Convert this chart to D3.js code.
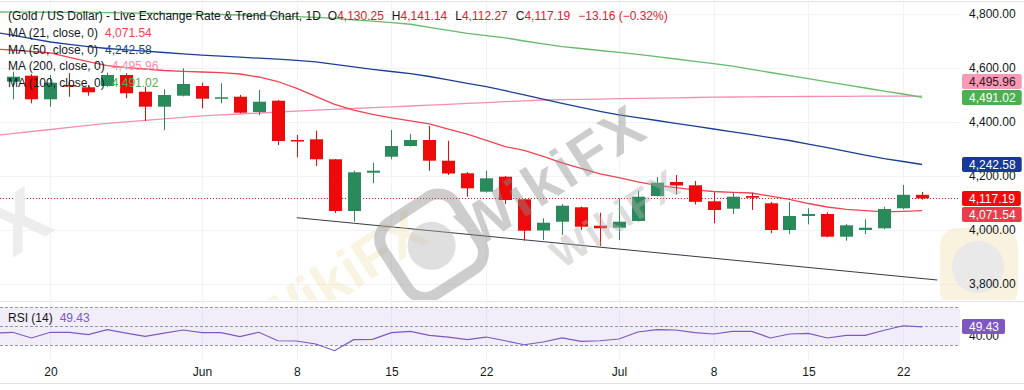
<!DOCTYPE html>
<html>
<head>
<meta charset="utf-8">
<script src="https://cdn.jsdelivr.net/npm/d3@7/dist/d3.min.js"></script>
<style>
  html, body { margin: 0; padding: 0; background: #fff; }
  svg text { font-family: "Liberation Sans", Arial, sans-serif; font-size: 12px; fill: #131722; }
</style>
</head>
<body>
<div id="chart"></div>
<script>
// Trading days (first one has no visible candle, it only feeds the lines at the left edge)
const dates = [
  "2026-05-15",
  "2026-05-18", "2026-05-19", "2026-05-20", "2026-05-21", "2026-05-22",
  "2026-05-25", "2026-05-26", "2026-05-27", "2026-05-28", "2026-05-29",
  "2026-06-01", "2026-06-02", "2026-06-03", "2026-06-04", "2026-06-05",
  "2026-06-08", "2026-06-09", "2026-06-10", "2026-06-11", "2026-06-12",
  "2026-06-15", "2026-06-16", "2026-06-17", "2026-06-18", "2026-06-19",
  "2026-06-22", "2026-06-23", "2026-06-24", "2026-06-25", "2026-06-26",
  "2026-06-29", "2026-06-30", "2026-07-01", "2026-07-02", "2026-07-03",
  "2026-07-06", "2026-07-07", "2026-07-08", "2026-07-09", "2026-07-10",
  "2026-07-13", "2026-07-14", "2026-07-15", "2026-07-16", "2026-07-17",
  "2026-07-20", "2026-07-21", "2026-07-22", "2026-07-23"
];

// OHLC, one value per date
const open = [null,
  4549.3, 4571.5, 4484.1, 4537.0, 4528.5, 4533.3, 4574.1, 4512.2, 4456.7, 4497.4,
  4533.3, 4488.5, 4493.7, 4437.0, 4478.9, 4333.3, 4335.9, 4261.9, 4070.4, 4212.2,
  4271.5, 4311.1, 4333.3, 4256.7, 4210.0, 4141.9, 4197.4, 4113.7, 3998.1, 4030.7,
  4084.1, 4015.9, 4008.5, 4033.3, 4125.9, 4177.8, 4165.6, 4106.3, 4078.9, 4125.9,
  4098.9, 4000.0, 4051.9, 4059.3, 3975.2, 4000.0, 4006.3, 4080.4, 4130.25];
const high = [null,
  4586.3, 4577.8, 4574.1, 4581.5, 4537.0, 4582.6, 4580.4, 4530.7, 4521.1, 4598.9,
  4545.6, 4543.3, 4500.0, 4518.5, 4481.5, 4351.9, 4367.8, 4263.0, 4219.6, 4249.3,
  4370.4, 4355.6, 4385.2, 4330.7, 4214.8, 4219.6, 4200.0, 4114.8, 4043.3, 4096.3,
  4087.0, 4064.1, 4117.4, 4145.6, 4196.3, 4203.7, 4181.5, 4139.6, 4138.1, 4138.1,
  4103.7, 4103.7, 4080.4, 4065.6, 4022.2, 4039.6, 4086.3, 4166.7, 4141.14];
const low = [null,
  4484.1, 4469.3, 4456.7, 4493.7, 4497.4, 4529.6, 4487.8, 4403.7, 4370.4, 4495.0,
  4450.7, 4469.3, 4432.2, 4425.9, 4314.8, 4269.3, 4237.0, 4063.0, 4030.7, 4173.0,
  4261.9, 4309.3, 4219.6, 4203.7, 4123.3, 4138.9, 4096.3, 3960.4, 3963.0, 3981.5,
  4000.0, 3940.7, 3963.0, 4031.5, 4124.0, 4131.5, 4094.4, 4024.8, 4059.3, 4074.1,
  3987.8, 3985.2, 4021.1, 3973.0, 3960.4, 3985.2, 4002.6, 4076.7, 4112.27];
const close = [null,
  4567.8, 4484.1, 4545.6, 4535.0, 4510.0, 4574.1, 4506.3, 4456.7, 4500.0, 4540.7,
  4486.3, 4491.5, 4434.4, 4475.2, 4329.6, 4330.7, 4261.9, 4070.4, 4213.7, 4219.6,
  4311.1, 4333.3, 4256.7, 4209.3, 4154.4, 4191.5, 4111.1, 3997.4, 4027.0, 4090.0,
  4012.2, 4006.3, 4030.7, 4123.3, 4175.2, 4164.8, 4104.4, 4074.1, 4123.3, 4119.6,
  4000.0, 4051.9, 4059.3, 3975.2, 4017.4, 4008.5, 4077.8, 4130.35, 4117.19];

// Moving averages
const ma21 = [
  4670.4, 4666.7, 4661.1, 4655.6, 4639.3, 4623.3, 4608.9, 4601.5, 4596.3, 4590.7,
  4587.4, 4585.2, 4583.0, 4577.8, 4566.7, 4550.0, 4524.8, 4495.2, 4465.6, 4444.1,
  4428.5, 4415.6, 4404.1, 4393.0, 4373.7, 4354.8, 4332.2, 4308.9, 4294.8, 4272.6,
  4248.9, 4228.1, 4208.1, 4193.7, 4178.5, 4165.2, 4156.7, 4148.9, 4142.6, 4139.3,
  4137.0, 4125.2, 4113.3, 4098.1, 4085.2, 4076.3, 4071.5, 4067.4, 4069.3, 4071.54];
const ma50 = [
  4733.3, 4721.5, 4708.5, 4696.3, 4687.8, 4679.3, 4672.2, 4667.4, 4662.2, 4657.4,
  4652.6, 4647.8, 4643.7, 4640.0, 4636.3, 4632.6, 4628.5, 4623.0, 4613.7, 4604.4,
  4595.2, 4587.0, 4578.9, 4568.5, 4555.9, 4543.3, 4530.7, 4515.9, 4500.4, 4484.8,
  4469.3, 4454.1, 4439.6, 4426.7, 4416.3, 4405.6, 4394.8, 4384.4, 4374.1, 4363.3,
  4353.0, 4342.2, 4331.5, 4318.1, 4304.8, 4291.5, 4277.4, 4264.4, 4253.7, 4242.58];
const ma200 = [
  4349.6, 4357.0, 4364.8, 4372.2, 4380.0, 4387.8, 4394.8, 4400.4, 4405.9, 4411.5,
  4417.0, 4422.6, 4426.3, 4429.6, 4433.3, 4436.7, 4440.0, 4443.7, 4447.0, 4450.0,
  4453.3, 4456.3, 4459.3, 4462.6, 4465.6, 4468.9, 4471.9, 4475.2, 4478.5, 4481.5,
  4482.6, 4483.7, 4484.8, 4486.3, 4487.4, 4488.5, 4489.6, 4490.7, 4491.9, 4492.6,
  4493.3, 4493.7, 4494.1, 4494.4, 4494.8, 4495.2, 4495.6, 4495.6, 4495.9, 4495.96];
const ma100 = [
  4807.4, 4807.2, 4806.8, 4806.5, 4806.1, 4805.7, 4805.2, 4804.1, 4803.0, 4802.0,
  4800.9, 4799.8, 4798.1, 4796.3, 4794.4, 4792.8, 4790.2, 4787.2, 4783.9, 4778.5,
  4773.3, 4768.0, 4762.0, 4750.7, 4739.3, 4728.3, 4720.0, 4711.9, 4700.0, 4689.6,
  4679.3, 4672.2, 4664.8, 4658.1, 4650.4, 4641.8, 4633.3, 4624.8, 4616.3, 4606.7,
  4594.8, 4583.3, 4571.9, 4560.4, 4548.5, 4537.4, 4525.9, 4514.1, 4503.7, 4491.02];

// RSI (14)
const rsi = [
  42.9, 43.7, 37.7, 43.7, 43.7, 41.2, 46.4, 42.9, 39.5, 42.9, 46.1,
  43.3, 43.3, 39.1, 43.7, 34.8, 34.5, 31.4, 24.3, 35.9, 36.3,
  43.3, 44.7, 40.5, 38.7, 35.9, 38.7, 34.8, 30.6, 33.5, 37.7,
  34.2, 34.8, 36.6, 44.0, 46.4, 46.1, 43.3, 41.9, 44.7, 44.7,
  37.7, 41.9, 42.6, 37.7, 40.5, 40.5, 45.8, 50.6, 49.43];

// Trend line anchors (date index, price)
const trendIdx = [16, 49.8];
const trendPrice = [4045.6, 3814.8];

// Axis ticks
const priceTicks = [3800, 4000, 4200, 4400, 4600, 4800];
const rsiLevels = [70, 50, 30];
const tickDates = ["2026-05-20", "2026-06-01", "2026-06-08", "2026-06-15", "2026-06-22",
                   "2026-07-01", "2026-07-08", "2026-07-15", "2026-07-22"];
const tickLabels = ["20", "Jun", "8", "15", "22", "Jul", "8", "15", "22"];

const width = 1024;
const height = 390;
const plotRight = 960;

const upColor = "#2b8a5c";
const downColor = "#ec0a0a";
const textColor = "#131722";

const svg = d3.select("#chart")
    .append("svg")
    .attr("width", width)
    .attr("height", height);

const x = d3.scaleLinear()
    .domain([0, dates.length - 1])
    .range([-6.45, 922.1]);

const y = d3.scaleLinear()
    .domain([3800, 4800])
    .range([284, 14]);

const yRsi = d3.scaleLinear()
    .domain([30, 70])
    .range([345.3, 307.3]);

const defs = svg.append("defs");
defs.append("clipPath").attr("id", "clipMain")
    .append("rect").attr("x", 0).attr("y", 0).attr("width", plotRight).attr("height", 300);
defs.append("clipPath").attr("id", "clipRsi")
    .append("rect").attr("x", 0).attr("y", 302).attr("width", plotRight).attr("height", 58);
defs.append("clipPath").attr("id", "clipAll")
    .append("rect").attr("x", 0).attr("y", 2).attr("width", width).attr("height", 298);

// frame lines
svg.append("line").attr("x1", 0).attr("x2", width).attr("y1", 1.5).attr("y2", 1.5)
    .attr("stroke", "#e0e3eb");
svg.append("line").attr("x1", 0).attr("x2", width).attr("y1", 383.5).attr("y2", 383.5)
    .attr("stroke", "#e0e3eb");
svg.append("line").attr("x1", 0).attr("x2", width).attr("y1", 301.5).attr("y2", 301.5)
    .attr("stroke", "#e0e3eb");

// grid
const tickIdx = tickDates.map(d => dates.indexOf(d));
svg.append("g").selectAll("line")
    .data(tickIdx)
    .join("line")
    .attr("x1", d => Math.round(x(d)) + 0.5)
    .attr("x2", d => Math.round(x(d)) + 0.5)
    .attr("y1", 2)
    .attr("y2", 360)
    .attr("stroke", "#f0f3fa");
svg.append("g").selectAll("line")
    .data(priceTicks)
    .join("line")
    .attr("x1", 0)
    .attr("x2", plotRight)
    .attr("y1", d => Math.round(y(d)) + 0.5)
    .attr("y2", d => Math.round(y(d)) + 0.5)
    .attr("stroke", "#f0f3fa");

const main = svg.append("g").attr("clip-path", "url(#clipMain)");

// last price dotted line
main.append("line")
    .attr("x1", 0).attr("x2", plotRight)
    .attr("y1", Math.round(y(close[close.length - 1])) + 0.5)
    .attr("y2", Math.round(y(close[close.length - 1])) + 0.5)
    .attr("stroke", downColor)
    .attr("stroke-dasharray", "1,2");

// trend line
main.append("line")
    .attr("x1", x(trendIdx[0])).attr("y1", y(trendPrice[0]))
    .attr("x2", x(trendIdx[1])).attr("y2", y(trendPrice[1]))
    .attr("stroke", "#363a45")
    .attr("stroke-width", 1);

// moving averages
const maLine = d3.line()
    .x((d, i) => x(i))
    .y(d => y(d));

const maSeries = [
    { values: ma200, color: "#f48fb1" },
    { values: ma100, color: "#66bb6a" },
    { values: ma50, color: "#1c3f94" },
    { values: ma21, color: "#ef4452" }
];
main.selectAll(".ma")
    .data(maSeries)
    .join("path")
    .attr("class", "ma")
    .attr("d", d => maLine(d.values))
    .attr("fill", "none")
    .attr("stroke", d => d.color)
    .attr("stroke-width", 1.3);

// candles
const candles = dates.map((d, i) => ({ i, o: open[i], h: high[i], l: low[i], c: close[i] }))
    .filter(d => d.o !== null);

main.selectAll(".wick")
    .data(candles)
    .join("line")
    .attr("class", "wick")
    .attr("x1", d => Math.round(x(d.i)) + 0.5)
    .attr("x2", d => Math.round(x(d.i)) + 0.5)
    .attr("y1", d => y(d.h))
    .attr("y2", d => y(d.l))
    .attr("stroke", d => d.c >= d.o ? upColor : downColor);

main.selectAll(".body")
    .data(candles)
    .join("rect")
    .attr("class", "body")
    .attr("x", d => Math.round(x(d.i)) - 6)
    .attr("width", 13)
    .attr("y", d => y(Math.max(d.o, d.c)))
    .attr("height", d => Math.max(1.5, Math.abs(y(d.o) - y(d.c))))
    .attr("fill", d => d.c >= d.o ? upColor : downColor);

// watermarks (faint logos laid over the chart)
const wm = svg.append("g").attr("pointer-events", "none").attr("clip-path", "url(#clipAll)");

const beige = wm.append("g").attr("transform", "translate(300,302) rotate(-33)").attr("opacity", 0.3);
beige.append("rect").attr("x", -150).attr("y", -42).attr("width", 84).attr("height", 84).attr("rx", 20)
    .attr("fill", "none").attr("stroke", "#eed9a0").attr("stroke-width", 11);
beige.append("text").attr("x", -50).attr("y", 20).text("WikiFX")
    .style("font-size", "58px").style("font-weight", "bold").style("fill", "#eed9a0");

const leftX = wm.append("g").attr("transform", "translate(20,222) rotate(-33)");
leftX.append("text").attr("text-anchor", "middle").attr("y", 26).text("X")
    .style("font-size", "78px").style("font-weight", "bold").style("fill", "#ededed");

const gray = wm.append("g").attr("transform", "translate(552,176) rotate(-33)").attr("opacity", 0.42);
gray.append("rect").attr("x", -182).attr("y", -50).attr("width", 86).attr("height", 86).attr("rx", 20)
    .attr("fill", "none").attr("stroke", "#8a8a8a").attr("stroke-width", 11);
gray.append("circle").attr("cx", -139).attr("cy", -7).attr("r", 24).attr("fill", "#b5b5b5");
gray.append("text").attr("text-anchor", "middle").attr("y", 20).text("WikiFX")
    .style("font-size", "58px").style("font-weight", "bold").style("letter-spacing", "3px").style("fill", "#8a8a8a");
gray.append("text").attr("text-anchor", "middle").attr("x", 30).attr("y", 84).text("WikiFX")
    .style("font-size", "40px").style("font-weight", "bold").style("letter-spacing", "2px").style("fill", "#b0b0b0");

const rightLogo = wm.append("g").attr("opacity", 0.45);
rightLogo.append("rect").attr("x", 940).attr("y", 228).attr("width", 78).attr("height", 80).attr("rx", 18)
    .attr("fill", "#f3e4b8");
rightLogo.append("circle").attr("cx", 978).attr("cy", 267).attr("r", 26).attr("fill", "#cfcfcf");

// RSI panel
const rsiG = svg.append("g");
rsiG.append("rect")
    .attr("x", 0).attr("width", plotRight)
    .attr("y", yRsi(70)).attr("height", yRsi(30) - yRsi(70))
    .attr("fill", "#7e57c2").attr("fill-opacity", 0.1);
rsiG.selectAll(".lvl")
    .data(rsiLevels)
    .join("line")
    .attr("class", "lvl")
    .attr("x1", 0).attr("x2", plotRight)
    .attr("y1", d => Math.round(yRsi(d)) + 0.5)
    .attr("y2", d => Math.round(yRsi(d)) + 0.5)
    .attr("stroke", "#9598a1")
    .attr("stroke-dasharray", "3,2");
rsiG.append("path")
    .attr("clip-path", "url(#clipRsi)")
    .attr("d", d3.line().x((d, i) => x(i)).y(d => yRsi(d))(rsi))
    .attr("fill", "none")
    .attr("stroke", "#7e57c2")
    .attr("stroke-width", 1.2);

// x axis
const xAxis = d3.axisBottom(x)
    .tickValues(tickIdx)
    .tickFormat((d, i) => tickLabels[i])
    .tickSize(0)
    .tickPadding(0);
const xg = svg.append("g").attr("transform", "translate(0,367)").call(xAxis);
xg.select(".domain").remove();
xg.selectAll("text").style("font-size", "12px").style("fill", textColor).style("font-family", null);

// price axis
const yAxis = d3.axisRight(y)
    .tickValues(priceTicks)
    .tickFormat(d3.format(",.2f"))
    .tickSize(0)
    .tickPadding(0);
const yg = svg.append("g").attr("transform", "translate(969,0)").call(yAxis);
yg.select(".domain").remove();
yg.selectAll("text").style("font-size", "12px").style("fill", textColor).style("font-family", null);

// rsi axis label (mostly hidden behind the value tag, as in the original)
const rg = svg.append("g").attr("transform", "translate(969,0)")
    .call(d3.axisRight(yRsi).tickValues([40]).tickFormat(d3.format(".2f")).tickSize(0).tickPadding(0));
rg.select(".domain").remove();
rg.selectAll("text").style("font-size", "12px").style("fill", textColor).style("font-family", null);

// price tags on the axis
const fmt = d3.format(",.2f");
const last = close.length - 1;
const tags = [
    { v: close[last], bg: "#f20a0a", fg: "#ffffff" },
    { v: ma100[last], bg: "#4caf50", fg: "#ffffff" },
    { v: ma50[last], bg: "#163a96", fg: "#ffffff" },
    { v: ma21[last], bg: "#ef3b49", fg: "#ffffff" },
    { v: ma200[last], bg: "#f59ab7", fg: "#3b1020" }
];
const placed = [];
tags.forEach(t => {
    let ty = y(t.v);
    placed.forEach(p => {
        if (Math.abs(ty - p) < 16) ty = ty < p ? p - 16 : p + 16;
    });
    placed.push(ty);
    t.ty = ty;
});

function drawTag(g, cy, label, bg, fg) {
    const tg = g.append("g");
    const txt = tg.append("text")
        .attr("x", 969).attr("y", cy).attr("dy", "0.35em")
        .text(label).style("fill", fg);
    const w = txt.node().getComputedTextLength();
    tg.insert("rect", "text")
        .attr("x", 962).attr("y", Math.round(cy - 7.5))
        .attr("width", w + 13).attr("height", 15).attr("rx", 2)
        .attr("fill", bg);
}
const tagG = svg.append("g");
tags.forEach(t => drawTag(tagG, t.ty, fmt(t.v), t.bg, t.fg));
drawTag(tagG, yRsi(rsi[last]), d3.format(".2f")(rsi[last]), "#7e57c2", "#ffffff");

// legends
const leg = svg.append("g");
const title = leg.append("text").attr("x", 8).attr("y", 19.5);
title.append("tspan").text("(Gold / US Dollar) - Live Exchange Rate & Trend Chart, 1D");
const ohlc = [["O", open[last]], ["H", high[last]], ["L", low[last]], ["C", close[last]]];
ohlc.forEach(([k, v], i) => {
    title.append("tspan").attr("dx", i === 0 ? 7 : 8).text(k);
    title.append("tspan").style("fill", "#e0202e").text(fmt(v));
});
const chg = close[last] - close[last - 1];
title.append("tspan").attr("dx", 8).style("fill", "#e0202e")
    .text(`${d3.format(".2f")(chg).replace("-", "\u2212")} (${d3.format(".2f")(chg / close[last - 1] * 100).replace("-", "\u2212")}%)`);

const maLegend = [
    { name: "MA (21, close, 0)", v: ma21[last], color: "#ef4452" },
    { name: "MA (50, close, 0)", v: ma50[last], color: "#1c3f94" },
    { name: "MA (200, close, 0)", v: ma200[last], color: "#f48fb1" },
    { name: "MA (100, close, 0)", v: ma100[last], color: "#4caf50" }
];
maLegend.forEach((m, i) => {
    const t = leg.append("text").attr("x", 8).attr("y", 37 + i * 16.7);
    t.append("tspan").text(m.name);
    t.append("tspan").attr("dx", 7).style("fill", m.color).text(fmt(m.v));
});

const rsiText = leg.append("text").attr("x", 8).attr("y", 321.5);
rsiText.append("tspan").text("RSI (14)");
rsiText.append("tspan").attr("dx", 7).style("fill", "#7e57c2").text(d3.format(".2f")(rsi[last]));
</script>
</body>
</html>
